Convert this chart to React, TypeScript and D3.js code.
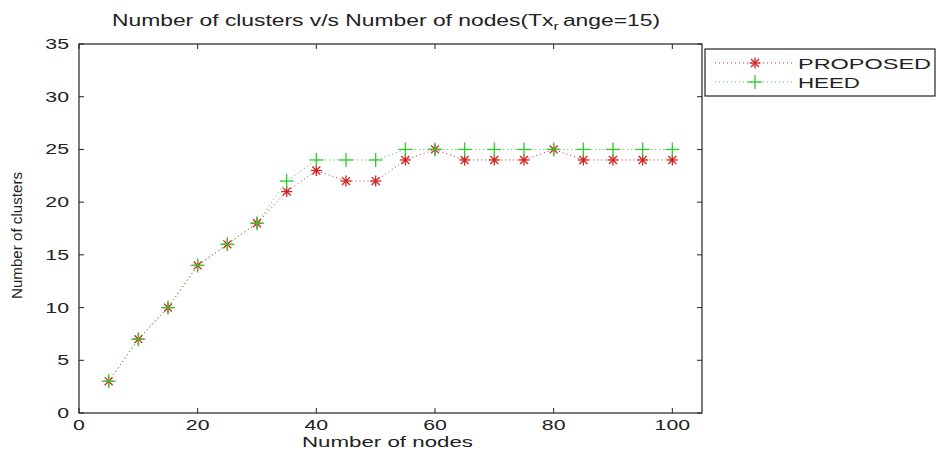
import React from "react";
import * as d3 from "d3";

const nodes = [5, 10, 15, 20, 25, 30, 35, 40, 45, 50, 55, 60, 65, 70, 75, 80, 85, 90, 95, 100];
const proposed = [3, 7, 10, 14, 16, 18, 21, 23, 22, 22, 24, 25, 24, 24, 24, 25, 24, 24, 24, 24];
const heed = [3, 7, 10, 14, 16, 18, 22, 24, 24, 24, 25, 25, 25, 25, 25, 25, 25, 25, 25, 25];
const xTicks = [0, 20, 40, 60, 80, 100];
const yTicks = [0, 5, 10, 15, 20, 25, 30, 35];
const seriesNames = ["PROPOSED", "HEED"];

const W = 936, H = 450;
const left = 79, right = 702, top = 44, bottom = 413;
const RED = "#d42020";
const GREEN = "#2ecc2e";
const FONT = "Arial, 'Liberation Sans', sans-serif";
const INK = "#222";

function Star({ x, y, c }: { x: number; y: number; c: string }) {
  const r = 5.5;
  const d = r * 0.72;
  return (
    <g stroke={c} strokeWidth={1.3}>
      <line x1={x - r} y1={y} x2={x + r} y2={y} />
      <line x1={x} y1={y - r} x2={x} y2={y + r} />
      <line x1={x - d} y1={y - d} x2={x + d} y2={y + d} />
      <line x1={x - d} y1={y + d} x2={x + d} y2={y - d} />
    </g>
  );
}
function Plus({ x, y, c }: { x: number; y: number; c: string }) {
  const r = 7;
  return (
    <g stroke={c} strokeWidth={1.3}>
      <line x1={x - r} y1={y} x2={x + r} y2={y} />
      <line x1={x} y1={y - r} x2={x} y2={y + r} />
    </g>
  );
}

function Wide({ x, y, sx = 1.42, anchor = "middle", size = 15, children }: any) {
  return (
    <text transform={`translate(${x},${y}) scale(${sx},1)`} textAnchor={anchor} fontSize={size} fill={INK}>
      {children}
    </text>
  );
}

export default function App() {
  const x = d3.scaleLinear().domain([0, 105]).range([left, right]);
  const y = d3.scaleLinear().domain([0, 35]).range([bottom, top]);
  const line = (vals: number[]) =>
    d3.line<number>().x((_, i) => x(nodes[i])).y((v) => y(v))(vals) || "";
  const tk = 5;
  return (
    <svg width={W} height={H} style={{ position: "absolute", left: 0, top: 0, background: "#fff" }} fontFamily={FONT}>
      <rect width={W} height={H} fill="#fff" />
      <text x={112} y={26} fontSize={16} fill={INK} textLength={548} lengthAdjust="spacingAndGlyphs">
        Number of clusters v/s Number of nodes(Tx<tspan dy={4} fontSize={11}>r</tspan><tspan dy={-4} dx={3}>ange=15)</tspan>
      </text>
      {/* axes box */}
      <rect x={left} y={top} width={right - left} height={bottom - top} fill="none" stroke={INK} strokeWidth={1.2} />
      {xTicks.map((t) => (
        <g key={"x" + t}>
          <line x1={x(t)} x2={x(t)} y1={bottom} y2={bottom - tk} stroke={INK} />
          <line x1={x(t)} x2={x(t)} y1={top} y2={top + tk} stroke={INK} />
          <Wide x={x(t)} y={430}>{t}</Wide>
        </g>
      ))}
      {yTicks.map((t) => (
        <g key={"y" + t}>
          <line x1={left} x2={left + tk} y1={y(t)} y2={y(t)} stroke={INK} />
          <line x1={right} x2={right - tk} y1={y(t)} y2={y(t)} stroke={INK} />
          <Wide x={69} y={y(t) + 5} anchor="end">{t}</Wide>
        </g>
      ))}
      <text x={302} y={447} fontSize={15} fill={INK} textLength={171} lengthAdjust="spacingAndGlyphs">Number of nodes</text>
      <text transform={`translate(22,299) rotate(-90)`} fontSize={15} fill={INK}
        textLength={127} lengthAdjust="spacingAndGlyphs">Number of clusters</text>
      {/* series */}
      <path d={line(proposed)} fill="none" stroke={RED} strokeWidth={1} strokeDasharray="1 3" />
      <path d={line(heed)} fill="none" stroke={GREEN} strokeWidth={1} strokeDasharray="1 3" />
      {proposed.map((v, i) => <Star key={"p" + i} x={x(nodes[i])} y={y(v)} c={RED} />)}
      {heed.map((v, i) => <Plus key={"h" + i} x={x(nodes[i])} y={y(v)} c={GREEN} />)}
      {/* legend */}
      <rect x={705} y={49} width={230} height={47} fill="#fff" stroke={INK} strokeWidth={1.2} />
      {seriesNames.map((n, i) => {
        const ly = 63 + i * 19;
        const c = i === 0 ? RED : GREEN;
        return (
          <g key={n}>
            <line x1={715} x2={795} y1={ly} y2={ly} stroke={c} strokeDasharray="1 3" />
            {i === 0 ? <Star x={755} y={ly} c={c} /> : <Plus x={755} y={ly} c={c} />}
            <text x={798} y={ly + 5.5} fontSize={15} fill={INK} textLength={i === 0 ? 133 : 62} lengthAdjust="spacingAndGlyphs">{n}</text>
          </g>
        );
      })}
    </svg>
  );
}
